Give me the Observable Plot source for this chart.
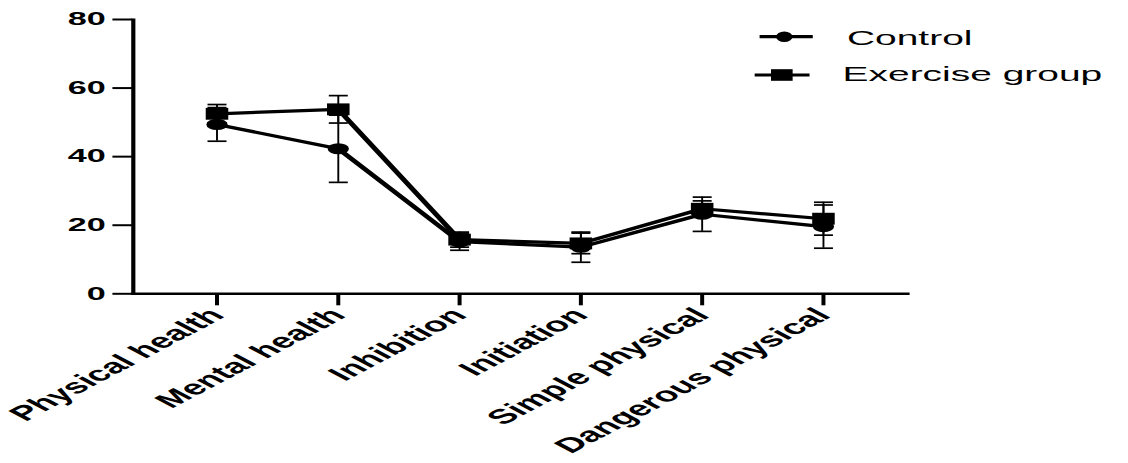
<!DOCTYPE html>
<html>
<head>
<meta charset="utf-8">
<script src="https://cdn.jsdelivr.net/npm/d3@7"></script>
<script src="https://cdn.jsdelivr.net/npm/@observablehq/plot@0.6"></script>
<style>
  html, body { margin: 0; padding: 0; background: #fff; }
  #chart svg { display: block; }
</style>
</head>
<body>
<div id="chart"></div>
<script>
// ---- data ----
const categories = ["Physical health", "Mental health", "Inhibition", "Initiation", "Simple physical", "Dangerous physical"];
const groups = ["Control", "Exercise group"];
const controlMean = [49.4, 42.3, 15.2, 13.6, 23.2, 19.6];
const controlErr  = [4.9, 9.8, 2.5, 4.4, 5.0, 6.3];
const exerciseMean = [52.5, 53.8, 15.8, 14.7, 24.8, 21.9];
const exerciseErr  = [2.7, 4.0, 2.2, 3.0, 2.3, 4.8];
const yTicks = [0, 20, 40, 60, 80];

const controlRows = categories.map((c, i) => ({cat: c, group: groups[0], mean: controlMean[i], err: controlErr[i]}));
const exerciseRows = categories.map((c, i) => ({cat: c, group: groups[1], mean: exerciseMean[i], err: exerciseErr[i]}));
const allRows = controlRows.concat(exerciseRows);

// drawn in an unstretched space, then stretched horizontally like the reference
const W = 594, H = 463, FULLW = 1128;
const font = "'Liberation Sans', Arial, Helvetica, sans-serif";

// horizontal cap symbol for error bars (half-width = r)
const capSymbol = {
  draw(context, size) {
    const w = Math.sqrt(size / Math.PI);
    context.moveTo(-w, 0);
    context.lineTo(w, 0);
  }
};

const errBars = (rows) => [
  Plot.ruleX(rows, {x: "cat", y1: d => d.mean - d.err, y2: d => d.mean + d.err, stroke: "black", strokeWidth: 1}),
  Plot.dot(rows, {x: "cat", y: d => d.mean - d.err, symbol: capSymbol, r: 5, fill: "none", stroke: "black", strokeWidth: 1.7}),
  Plot.dot(rows, {x: "cat", y: d => d.mean + d.err, symbol: capSymbol, r: 5, fill: "none", stroke: "black", strokeWidth: 1.7})
];

const plot = Plot.plot({
  width: W,
  height: H,
  marginLeft: 69.7,
  marginRight: 116.8,
  marginTop: 19,
  marginBottom: 169.7,
  style: {fontFamily: font, background: "white", color: "black", overflow: "visible"},
  x: {type: "point", domain: categories, padding: 0.69, round: false, label: null},
  y: {domain: [0, 80], label: null},
  marks: [
    ...errBars(allRows),
    Plot.line(controlRows, {x: "cat", y: "mean", stroke: "black", strokeWidth: 3.2}),
    Plot.line(exerciseRows, {x: "cat", y: "mean", stroke: "black", strokeWidth: 3.2}),
    Plot.dot(controlRows, {x: "cat", y: "mean", symbol: "circle", r: 5.6, fill: "black", stroke: "none"}),
    Plot.dot(exerciseRows, {x: "cat", y: "mean", symbol: "square", r: 6.7, fill: "black", stroke: "none"}),
    Plot.axisY({ticks: yTicks, tickSize: 10.5, tickPadding: 4, fontSize: 18, fontWeight: "bold", strokeWidth: 2, label: null}),
    Plot.axisX({tickSize: 12, tickPadding: 6, tickRotate: -45, fontSize: 20.5, fontWeight: "bold", strokeWidth: 2.1, label: null}),
    Plot.frame({anchor: "left", stroke: "black", strokeWidth: 2.2}),
    Plot.frame({anchor: "bottom", stroke: "black", strokeWidth: 2.6})
  ]
});

// legend (in the same unstretched coordinates)
const svg = d3.select(plot);
const leg = svg.append("g").attr("font-family", font).attr("fill", "black").attr("text-anchor", "start");
const legendItems = [
  {label: groups[0], symbol: "circle", lx1: 400, lx2: 428, ly: 36.7, mx: 413, tx: 446, ty: 45},
  {label: groups[1], symbol: "square", lx1: 397.4, lx2: 426.3, ly: 75, mx: 411.7, tx: 443.7, ty: 80.7}
];
for (const it of legendItems) {
  leg.append("line").attr("x1", it.lx1).attr("x2", it.lx2).attr("y1", it.ly).attr("y2", it.ly)
    .attr("stroke", "black").attr("stroke-width", 3.2);
  if (it.symbol === "circle") {
    leg.append("ellipse").attr("cx", it.mx).attr("cy", it.ly).attr("rx", 4.3).attr("ry", 5.2).attr("fill", "black");
  } else {
    leg.append("rect").attr("x", it.mx - 5.7).attr("y", it.ly - 5.8).attr("width", 11.4).attr("height", 11.6).attr("fill", "black");
  }
  leg.append("text").attr("x", it.tx).attr("y", it.ty).attr("font-size", 20.5).attr("text-anchor", "start").text(it.label);
}

// stretch horizontally
plot.setAttribute("width", FULLW);
plot.setAttribute("height", H);
plot.setAttribute("preserveAspectRatio", "none");
plot.style.width = FULLW + "px";
plot.style.height = H + "px";
plot.style.maxWidth = "none";
document.getElementById("chart").appendChild(plot);
</script>
</body>
</html>
